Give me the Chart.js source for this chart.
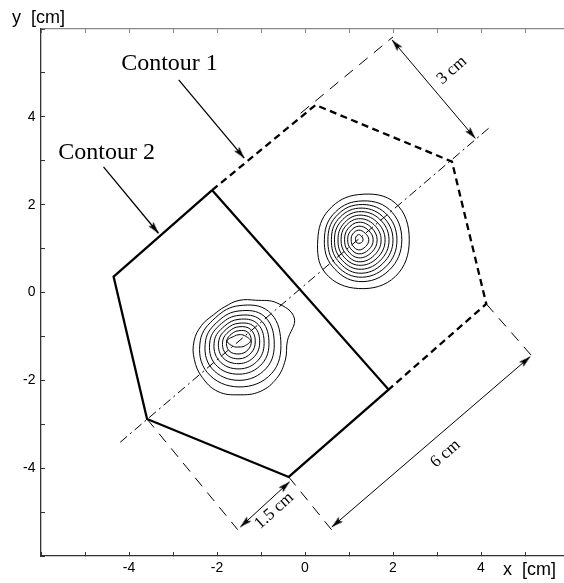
<!DOCTYPE html>
<html>
<head>
<meta charset="utf-8">
<script src="https://cdn.jsdelivr.net/npm/chart.js@4.4.1/dist/chart.umd.min.js"></script>
<style>
  html, body { margin: 0; padding: 0; background: #fff; overflow: hidden; }
  #wrap { position: absolute; left: 0; top: 0; width: 580px; height: 583px; }
</style>
</head>
<body>
<div id="wrap"><canvas id="c"></canvas></div>
<script>
// axes (cm)
const tickValues = [-6, -5, -4, -3, -2, -1, 0, 1, 2, 3, 4, 5, 6];
const tickLabels = [-4, -2, 0, 2, 4];

// contour 2 (solid, closed) and contour 1 (dashed, shares the middle edge)
const contour2X = [-2.11, -4.35, -3.59, -0.37, 1.90, -2.11];
const contour2Y = [2.33, 0.36, -2.88, -4.20, -2.21, 2.33];
const contour1X = [-2.11, 0.24, 3.34, 4.12, 1.90];
const contour1Y = [2.33, 4.27, 2.98, -0.26, -2.21];

// symmetry axis through both sources
const axisLineX = [-4.20, 4.21];
const axisLineY = [-3.41, 3.77];

// thin dashed extension lines
const extLines = [
  [[-0.10, 4.08], [2.00, 5.82]],
  [[-3.59, -2.88], [-1.53, -5.40]],
  [[-0.37, -4.20], [0.61, -5.41]],
  [[4.12, -0.26], [5.16, -1.45]]
];

// pointer arrows [tail, tip] and dimension arrows [end, end]
const pointerArrows = [
  [[-2.87, 4.84], [-1.38, 3.06]],
  [[-4.58, 2.86], [-3.33, 1.35]]
];
const dimArrows = [
  [[1.98, 5.75], [3.87, 3.51]],
  [[-1.47, -5.34], [-0.35, -4.31]],
  [[0.61, -5.34], [5.12, -1.46]]
];

// isolines around each source: centre + radii (cm) at evenly spaced angles
const blobACenter = [-1.50, -1.10];
const blobARings = [
  [1.10, 1.36, 1.22, 1.00, 0.92, 0.84, 0.83, 0.92, 1.02, 1.10, 1.18, 1.25, 1.23, 1.25, 1.21, 1.14],
  [0.95, 0.95, 0.80, 0.75, 0.88, 1.02, 1.05, 1.05],
  [0.80, 0.80, 0.68, 0.65, 0.76, 0.88, 0.90, 0.88],
  [0.68, 0.68, 0.58, 0.56, 0.66, 0.76, 0.76, 0.74],
  [0.57, 0.57, 0.49, 0.47, 0.56, 0.64, 0.64, 0.62],
  [0.47, 0.47, 0.40, 0.39, 0.46, 0.53, 0.52, 0.50],
  [0.37, 0.37, 0.32, 0.31, 0.37, 0.42, 0.41, 0.39],
  [0.28, 0.28, 0.23, 0.23, 0.28, 0.32, 0.30, 0.29],
  [0.26, 0.17, 0.14, 0.15, 0.27, 0.18, 0.14, 0.17]
];
const blobBCenter = [1.22, 1.20];
const blobBRings = [
  [1.15, 1.18, 1.03, 0.96, 0.93, 1.07, 1.11, 1.18],
  [0.98, 0.98, 0.88, 0.82, 0.78, 0.85, 0.95, 0.98],
  [0.87, 0.86, 0.80, 0.74, 0.70, 0.76, 0.85, 0.87],
  [0.78, 0.76, 0.72, 0.66, 0.62, 0.67, 0.76, 0.77],
  [0.69, 0.67, 0.64, 0.58, 0.55, 0.59, 0.67, 0.68],
  [0.60, 0.58, 0.56, 0.50, 0.47, 0.51, 0.58, 0.59],
  [0.51, 0.49, 0.48, 0.43, 0.40, 0.43, 0.50, 0.50],
  [0.42, 0.40, 0.40, 0.35, 0.32, 0.35, 0.41, 0.41],
  [0.33, 0.31, 0.31, 0.27, 0.25, 0.27, 0.32, 0.32],
  [0.23, 0.21, 0.22, 0.19, 0.17, 0.19, 0.23, 0.22],
  [0.10, 0.10, 0.12, 0.09, 0.07, 0.08, 0.08, 0.09]
];

// annotations, anchored in data units
const notes = [
  { text: 'Contour 1', x: -3.08, y: 5.22, rot: 0, size: 24 },
  { text: 'Contour 2', x: -4.51, y: 3.18, rot: 0, size: 24 },
  { text: '3 cm', x: 3.34, y: 5.06, rot: -41, size: 17 },
  { text: '1.5 cm', x: -0.70, y: -4.97, rot: -42, size: 17 },
  { text: '6 cm', x: 3.19, y: -3.67, rot: -41, size: 17 }
];

function toPoints(xs, ys) {
  return xs.map((x, i) => ({ x: x, y: ys[i] }));
}

function ringPoints(center, radii) {
  const n = radii.length;
  return radii.map((r, k) => {
    const a = 2 * Math.PI * k / n;
    return { x: center[0] + r * Math.cos(a), y: center[1] + r * Math.sin(a) };
  });
}

// narrow filled arrowhead, tip at the image centre, pointing up
function makeArrowHead() {
  const c = document.createElement('canvas');
  c.width = 10; c.height = 30;
  const g = c.getContext('2d');
  g.fillStyle = '#000';
  g.beginPath();
  g.moveTo(5, 15);
  g.lineTo(8.3, 27);
  g.lineTo(5, 24.5);
  g.lineTo(1.7, 27);
  g.closePath();
  g.fill();
  return c;
}
const arrowHead = makeArrowHead();

function headAngle(p, q) {
  // rotation (deg) so the head at p points away from q
  return Math.atan2(p[0] - q[0], p[1] - q[1]) * 180 / Math.PI;
}

const datasets = [];

datasets.push({
  data: toPoints(contour2X, contour2Y),
  borderColor: '#000', borderWidth: 2.3, pointRadius: 0, tension: 0
});
datasets.push({
  data: toPoints(contour1X, contour1Y),
  borderColor: '#000', borderWidth: 2.3, borderDash: [7, 4.5], pointRadius: 0, tension: 0
});
datasets.push({
  data: toPoints(axisLineX, axisLineY),
  borderColor: '#000', borderWidth: 1, borderDash: [9, 4, 2, 4], pointRadius: 0
});
extLines.forEach(seg => {
  datasets.push({
    data: seg.map(p => ({ x: p[0], y: p[1] })),
    borderColor: '#000', borderWidth: 1, borderDash: [11, 8], pointRadius: 0
  });
});
pointerArrows.forEach(seg => {
  datasets.push({
    data: seg.map(p => ({ x: p[0], y: p[1] })),
    borderColor: '#000', borderWidth: 1.3,
    pointStyle: arrowHead, pointRadius: [0, 5],
    pointRotation: [0, headAngle(seg[1], seg[0])]
  });
});
dimArrows.forEach(seg => {
  datasets.push({
    data: seg.map(p => ({ x: p[0], y: p[1] })),
    borderColor: '#000', borderWidth: 1,
    pointStyle: arrowHead, pointRadius: [5, 5],
    pointRotation: [headAngle(seg[0], seg[1]), headAngle(seg[1], seg[0])]
  });
});
[[blobACenter, blobARings], [blobBCenter, blobBRings]].forEach(([c, rings]) => {
  rings.forEach(r => {
    datasets.push({
      data: ringPoints(c, r),
      closed: true,
      borderColor: '#000', borderWidth: 1, pointRadius: 0, tension: 0.4
    });
  });
});

// close the isoline paths so the spline runs smoothly through the start point
const closeLoops = {
  id: 'closeLoops',
  afterDatasetsUpdate(chart) {
    chart.data.datasets.forEach((ds, i) => {
      if (!ds.closed) return;
      const line = chart.getDatasetMeta(i).dataset;
      if (!line) return;
      line._loop = true;
      line._fullLoop = true;
      line._pointsUpdated = false;
      delete line._segments;
      delete line._path;
    });
  }
};

const notesPlugin = {
  id: 'notes',
  afterDatasetsDraw(chart) {
    const { ctx, scales } = chart;
    ctx.save();
    ctx.fillStyle = '#000';
    ctx.textAlign = 'center';
    ctx.textBaseline = 'middle';
    notes.forEach(n => {
      const px = scales.x.getPixelForValue(n.x);
      const py = scales.y.getPixelForValue(n.y);
      ctx.save();
      ctx.translate(px, py);
      ctx.rotate(n.rot * Math.PI / 180);
      ctx.font = n.size + 'px "Liberation Serif", "Times New Roman", serif';
      ctx.fillText(n.text, 0, 0);
      ctx.restore();
    });
    // axis titles
    ctx.font = '18px "Liberation Sans", Arial, sans-serif';
    ctx.textAlign = 'left';
    ctx.textBaseline = 'alphabetic';
    ctx.fillText('y  [cm]', 12, 23);
    ctx.fillText('x  [cm]', chart.chartArea.left + 462, 575);
    ctx.restore();
  }
};

const tickFont = { family: '"Liberation Sans", Arial, sans-serif', size: 14 };

new Chart(document.getElementById('c'), {
  type: 'line',
  data: { datasets: datasets },
  options: {
    responsive: true,
    maintainAspectRatio: false,
    animation: false,
    events: [],
    layout: { padding: { left: 0, right: 11, top: 0, bottom: 0 } },
    plugins: { legend: { display: false }, tooltip: { enabled: false } },
    scales: {
      x: {
        type: 'linear', position: 'bottom', min: -6, max: 6,
        afterBuildTicks: s => { s.ticks = tickValues.map(v => ({ value: v })); },
        afterFit: s => { s.height = 27; },
        ticks: {
          autoSkip: false, maxRotation: 0, padding: 8, color: '#000', font: tickFont,
          callback: v => tickLabels.includes(v) ? String(v) : ''
        },
        grid: { drawOnChartArea: false, drawTicks: true, tickLength: -4, color: '#333', lineWidth: 1 },
        border: { display: true, color: '#333', width: 1.3 }
      },
      x2: {
        type: 'linear', axis: 'x', position: 'top', min: -6, max: 6,
        afterBuildTicks: s => { s.ticks = tickValues.map(v => ({ value: v })); },
        afterFit: s => { s.height = 29; },
        ticks: { autoSkip: false, maxRotation: 0, padding: 0, callback: () => '' },
        grid: { drawOnChartArea: false, drawTicks: true, tickLength: -4, color: '#888', lineWidth: 1 },
        border: { display: true, color: '#888', width: 1.3 }
      },
      y: {
        type: 'linear', position: 'left', min: -6, max: 6,
        afterBuildTicks: s => { s.ticks = tickValues.map(v => ({ value: v })); },
        afterFit: s => { s.width = 41; },
        ticks: {
          autoSkip: false, padding: 9.5, color: '#000', font: tickFont,
          callback: v => tickLabels.includes(v) ? String(v) : ''
        },
        grid: { drawOnChartArea: false, drawTicks: true, tickLength: -4, color: '#333', lineWidth: 1 },
        border: { display: true, color: '#333', width: 1.3 }
      }
    }
  },
  plugins: [closeLoops, notesPlugin]
});
</script>
</body>
</html>
